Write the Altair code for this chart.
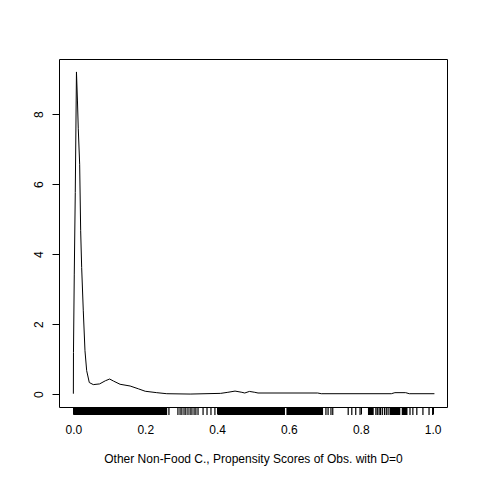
import altair as alt
import pandas as pd

# density curve (x, density)
curve_x = [0.000, 0.0003, 0.0025, 0.0053, 0.0086, 0.0114, 0.0136, 0.0175, 0.0203,
           0.0231, 0.0276, 0.0323, 0.037, 0.0443, 0.0554, 0.073, 0.089, 0.101,
           0.112, 0.13, 0.158, 0.181, 0.2, 0.232, 0.26, 0.325, 0.41, 0.43, 0.45,
           0.469, 0.477, 0.49, 0.505, 0.514, 0.68, 0.69, 0.885, 0.895, 0.925,
           0.935, 1.005]
curve_d = [0.01, 1.19, 3.43, 5.76, 9.21, 8.38, 7.6, 6.57, 4.67,
           3.62, 2.38, 1.24, 0.67, 0.33, 0.27, 0.29, 0.38, 0.43,
           0.37, 0.28, 0.23, 0.15, 0.08, 0.04, 0.01, 0.0, 0.02, 0.05, 0.085,
           0.05, 0.03, 0.075, 0.05, 0.03, 0.03, 0.01, 0.01, 0.04, 0.04,
           0.01, 0.01]

# rug: ranges where observations are packed so densely that ticks merge
rug_dense_start = [0.000, 0.402, 0.593, 0.820, 0.880, 0.914]
rug_dense_end = [0.261, 0.589, 0.695, 0.836, 0.910, 0.930]

# rug: isolated observations
rug_vals = [
    0.266,
    0.291, 0.297, 0.302, 0.308, 0.313, 0.319, 0.325, 0.330, 0.336, 0.341, 0.347,
    0.361, 0.372, 0.383, 0.394,
    0.703, 0.709, 0.717, 0.722,
    0.765, 0.775, 0.786, 0.798,
    0.842, 0.846, 0.851, 0.855, 0.860, 0.866, 0.871, 0.876,
    0.937, 0.945, 0.956, 0.973, 0.990, 1.000,
]

x_ticks = [0.0, 0.2, 0.4, 0.6, 0.8, 1.0]
y_ticks = [0, 2, 4, 6, 8]
x_title = "Other Non-Food C., Propensity Scores of Obs. with D=0"

df_curve = pd.DataFrame({"x": curve_x, "d": curve_d, "i": list(range(len(curve_x)))})
df_rug = pd.DataFrame({"r": rug_vals})
df_dense = pd.DataFrame({"a": rug_dense_start, "b": rug_dense_end})

FONT = "Liberation Sans"
xscale = alt.Scale(domain=[-0.04, 1.04], nice=False, zero=False)
yscale = alt.Scale(domain=[-0.37, 9.58], nice=False, zero=False)

curve = alt.Chart(df_curve).mark_line(color="black", strokeWidth=1, clip=True).encode(
    x=alt.X("x:Q", scale=xscale,
            axis=alt.Axis(values=x_ticks, format=".1f", title=x_title, grid=False,
                          domain=False, tickSize=7, tickColor="black",
                          labelFont=FONT, labelFontSize=12, labelColor="black",
                          labelBaseline="alphabetic", labelPadding=19,
                          titleFont=FONT, titleFontSize=12, titleFontWeight="normal",
                          titleColor="black", titleBaseline="alphabetic", titleY=55)),
    y=alt.Y("d:Q", scale=yscale,
            axis=alt.Axis(values=y_ticks, format="d", title=None, grid=False,
                          domain=False, tickSize=7, tickColor="black",
                          labelFont=FONT, labelFontSize=12, labelColor="black",
                          labelAngle=270, labelAlign="center",
                          labelBaseline="alphabetic", labelPadding=10)),
    order="i:Q",
)

rug = alt.Chart(df_rug).mark_rule(color="black", strokeWidth=1.2).encode(
    x=alt.X("r:Q", scale=xscale),
    y=alt.value(348),
    y2=alt.value(356),
)

dense = alt.Chart(df_dense).mark_rect(color="black").encode(
    x=alt.X("a:Q", scale=xscale),
    x2="b:Q",
    y=alt.value(348),
    y2=alt.value(356),
)

chart = alt.layer(curve, dense, rug).properties(
    width=388, height=348,
    autosize=alt.AutoSizeParams(type="none"),
    padding={"left": 51, "top": 51, "right": 25, "bottom": 65},
    background="white",
).configure_view(stroke="black", strokeWidth=1)

chart.save("out.html", embed_options={"renderer": "svg", "actions": False})
